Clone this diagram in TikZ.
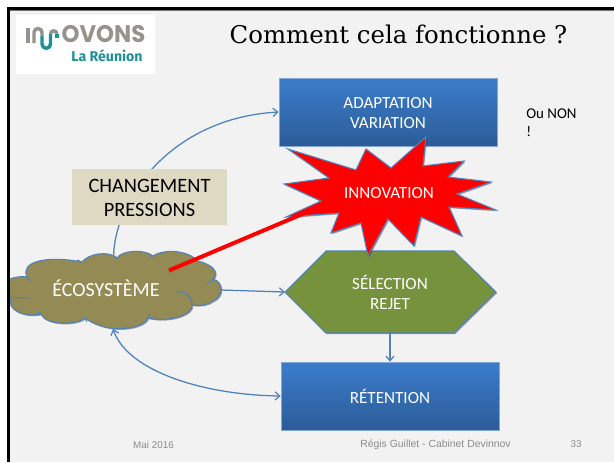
\documentclass[tikz,border=0pt]{standalone}
\usepackage{fontspec}
\setmainfont{Carlito}
\newfontfamily\titlefont{DejaVu Serif}
\newfontfamily\footfont{Liberation Sans}
\newfontfamily\logofont{Poppins}
\newfontfamily\logotwo{Fira Sans}
\usetikzlibrary{arrows.meta,shadows}
\definecolor{bg}{HTML}{F2F2F2}
\definecolor{conn}{HTML}{4F81BD}
\definecolor{bluetop}{HTML}{3B7DCC}
\definecolor{bluebot}{HTML}{2C5C98}
\definecolor{olive}{HTML}{76923C}
\definecolor{cloudc}{HTML}{948A54}
\definecolor{tan}{HTML}{DDD9C3}
\definecolor{footc}{HTML}{8B8B8B}
\definecolor{teal}{HTML}{1E9096}
\definecolor{lgray}{HTML}{96938D}
\newcommand{\lowered}[1]{\raisebox{-1pt}[\height][\depth]{#1}}
\tikzset{
  x=0.75pt,y=-0.75pt,
  softshadow/.style={drop shadow={shadow xshift=0.8pt,shadow yshift=-0.9pt,opacity=0.35,fill=black}},
  bluebox/.style={rectangle,inner sep=0pt,draw=conn!70!white,line width=0.5pt,top color=bluetop,bottom color=bluebot,
    text=white,align=center,font=\fontsize{12.8}{15}\selectfont,softshadow},
  labeltext/.style={text=white,align=center,font=\fontsize{12.8}{15}\selectfont,inner sep=0pt},
  conline/.style={draw=conn,line width=0.95pt,-{Straight Barb[length=3.6pt,width=6.2pt,line width=0.9pt]}},
  footlabel/.style={text=footc,inner sep=0pt,font=\footfont\fontsize{7.4}{9}\selectfont},
}
\begin{document}
\begin{tikzpicture}
\useasboundingbox (0,0) rectangle (614,462);
\fill[white] (0,0) rectangle (614,462);
\fill[bg] (10,10) rectangle (614,462);

% logo
\fill[white] (16,15) rectangle (155,74);
\fill[lgray] (26,28) rectangle (30,43);
\draw[lgray,line width=2.6pt] (34,43) -- (34,32.5) arc[start angle=180,end angle=360,radius=4] -- (42,36);
\draw[teal,line width=2.6pt] (42,36) -- (42,44) arc[start angle=180,end angle=0,radius=4.25] -- (50.5,33.5);
\draw[lgray,line width=2.6pt] (50.5,34) arc[start angle=180,end angle=360,radius=3.2];
\draw[teal,line width=2.6pt] (56.9,33.5) -- (56.9,38);
\node[inner sep=0pt,text=lgray,font=\logofont\bfseries\fontsize{18}{18}\selectfont] (logoa) at (103.5,34.5) {\scalebox{0.95}[1]{OVONS}};
\node[inner sep=0pt,text=teal,font=\logotwo\bfseries\fontsize{10.6}{12}\selectfont] (logob) at (107,56) {La Réunion};

% title
\node[inner sep=0pt,font=\titlefont\fontsize{18.3}{22}\selectfont,text=black] (title) at (398.5,34.5) {Comment cela fonctionne ?};

% boxes
\node[bluebox,minimum width=218*0.75pt,minimum height=68*0.75pt] (adapt) at (388,112) {\lowered{ADAPTATION}\\\lowered{VARIATION}};
\node[bluebox,minimum width=218*0.75pt,minimum height=68*0.75pt] (reten) at (390,396) {RÉTENTION};

% hexagon
\draw[fill=olive,draw=conn,line width=0.8pt,softshadow]
  (285,292) -- (326,251) -- (454,251) -- (496,292) -- (454,333) -- (326,333) -- cycle;
\coordinate (hexw) at (285,292);
\coordinate (hexs) at (390,333);
\node[labeltext] (select) at (390,292) {SÉLECTION\\REJET};

% connectors behind shapes
\coordinate (cloudtop) at (113.5,258);
\coordinate (cloudright) at (221,290);
\coordinate (cloudbot) at (113,329);
\draw[conline] (cloudtop) .. controls (114,200) and (170,118) .. (adapt.west);
\draw[conline] (cloudright) -- (hexw);
\draw[conline] (hexs) -- (reten.north);
\draw[conline,{Straight Barb[length=3.6pt,width=6.2pt,line width=0.9pt]}-{Straight Barb[length=3.6pt,width=6.2pt,line width=0.9pt]}]
  (cloudbot) .. controls (128,372) and (205,395) .. (reten.west);

% changement box
\node[rectangle,fill=tan,minimum width=155*0.75pt,minimum height=56*0.75pt,inner sep=0pt,align=center,
  font=\fontsize{15.3}{18}\selectfont,text=black] (chg) at (149.5,197) {\lowered{CHANGEMENT}\\\lowered{PRESSIONS}};

% star
\draw[fill=red,draw=conn,line width=0.8pt,softshadow]
  (288,149) -- (356,170) -- (366,149) -- (391,168) -- (426,137) -- (423,166) -- (464,161) -- (448,177)
  -- (491,182) -- (457,194) -- (496,210) -- (449,207) -- (462,236) -- (421,217) -- (414,246)
  -- (388,219) -- (368,256) -- (361,223) -- (331,233) -- (339,213) -- (286,217) -- (321,201)
  -- (284,184) -- (329,178) -- cycle;
\coordinate (starw) at (306,212.5);
\node[labeltext] (innov) at (389,193) {INNOVATION};

% cloud
\begin{scope}
\clip (10,240) rectangle (240,340);
\draw[fill=cloudc,draw=conn,line width=0.8pt,softshadow]
  (10,279) .. controls (15,277) and (22,276) .. (27,277)
  .. controls (20,262) and (45,255) .. (82,262)
  .. controls (88,254) and (108,250) .. (117,258)
  .. controls (122,250) and (145,249) .. (153,256)
  .. controls (165,248) and (190,251) .. (197,261)
  .. controls (212,264) and (220,272) .. (213,279)
  .. controls (224,282) and (224,296) .. (213,301)
  .. controls (208,305) and (200,306) .. (192,305)
  .. controls (194,314) and (170,323) .. (148,318)
  .. controls (145,328) and (110,336) .. (85,318)
  .. controls (75,326) and (45,325) .. (41,314)
  .. controls (25,318) and (6,310) .. (11,298)
  -- (8,296) -- (8,279) -- cycle;
\end{scope}
\draw[conn,line width=0.8pt]
  (207,283) .. controls (212,281) and (216,280) .. (213,277)
  (192,305) .. controls (192,297) and (185,290) .. (176,292)
  (11,298) .. controls (17,297) and (24,298) .. (30,298)
  (27,277) .. controls (28,279) and (29,280) .. (31,281)
  (82,262) -- (77,260)
  (117,258) -- (115,256)
  (153,256) -- (151,257)
  (197,261) -- (193,258)
  (148,318) -- (150,313)
  (85,318) -- (87,322)
  (41,314) -- (38,312);
\node[labeltext,font=\fontsize{15}{16}\selectfont] (eco) at (106,288) {ÉCOSYSTÈME};

% red line
\draw[red,line width=3pt,line cap=butt] (169,270.5) -- (starw);

% frame
\fill[black] (7,7) rectangle (614,10);
\fill[black] (7,7) rectangle (10,462);
\fill[black!55] (10,10) rectangle (614,10.7);

% side text
\node[anchor=north west,inner sep=0pt,align=left,text=black,font=\fontsize{11.2}{13.5}\selectfont] (ou) at (526,108.5) {Ou NON\\!};

% footer
\node[footlabel] (f1) at (153.5,444.5) {Mai 2016};
\node[footlabel,font=\footfont\fontsize{7.8}{9}\selectfont] (f2) at (435.5,444.5) {Régis Guillet - Cabinet Devinnov};
\node[footlabel] (f3) at (576,444.5) {33};
\end{tikzpicture}
\end{document}
